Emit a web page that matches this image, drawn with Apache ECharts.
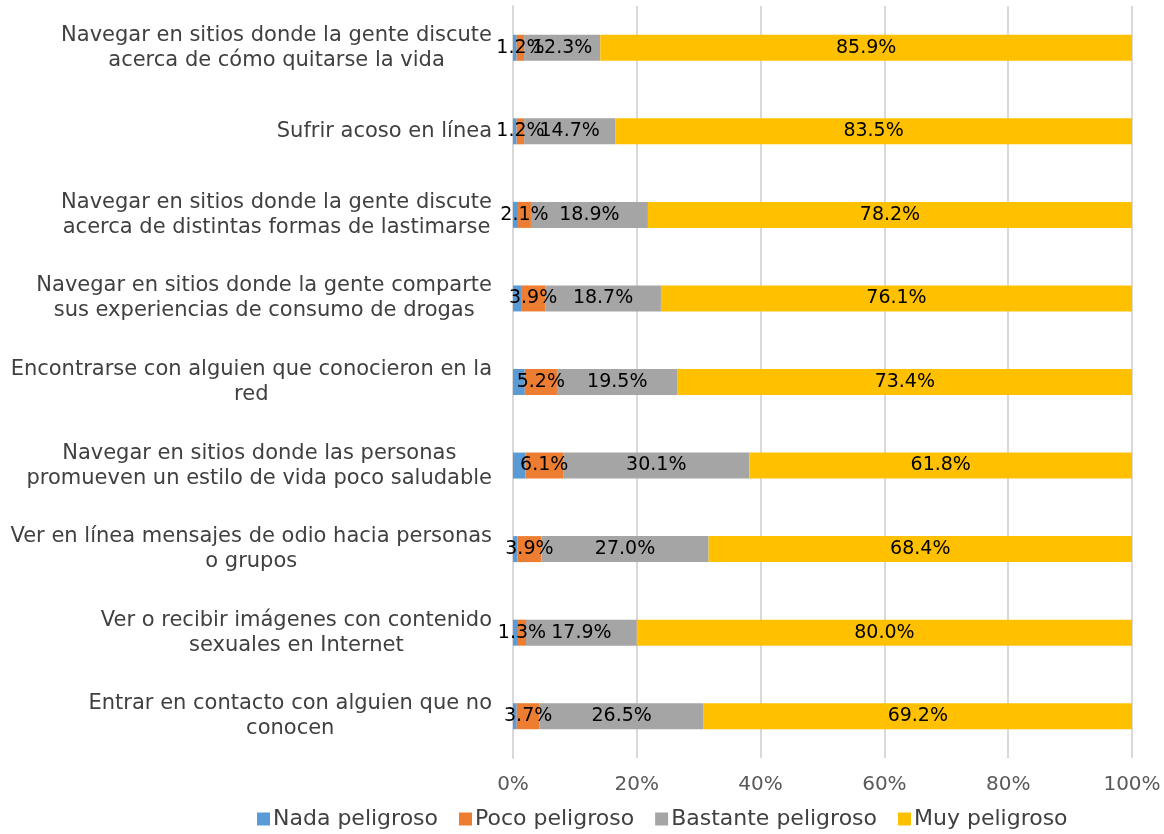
<!DOCTYPE html>
<html>
<head>
<meta charset="utf-8">
<script src="https://cdn.jsdelivr.net/npm/echarts@6/dist/echarts.min.js"></script>
<style>
  html, body { margin: 0; padding: 0; background: #fff; }
  #chart { width: 1164px; height: 834px; }
</style>
</head>
<body>
<div id="chart"></div>
<script>
// Risk perception of online activities (percent of respondents)
const categories = [
  "Navegar en sitios donde la gente discute\nacerca de cómo quitarse la vida",
  "Sufrir acoso en línea",
  "Navegar en sitios donde la gente discute\nacerca de distintas formas de lastimarse",
  "Navegar en sitios donde la gente comparte\nsus experiencias de consumo de drogas",
  "Encontrarse con alguien que conocieron en la\nred",
  "Navegar en sitios donde las personas\npromueven un estilo de vida poco saludable",
  "Ver en línea mensajes de odio hacia personas\no grupos",
  "Ver o recibir imágenes con contenido\nsexuales en Internet",
  "Entrar en contacto con alguien que no\nconocen"
];
const seriesNames = ["Nada peligroso", "Poco peligroso", "Bastante peligroso", "Muy peligroso"];
const nada      = [0.6, 0.6, 0.8, 1.3, 1.9, 2.0, 0.7, 0.8, 0.6];
const poco      = [1.2, 1.2, 2.1, 3.9, 5.2, 6.1, 3.9, 1.3, 3.7];
const bastante  = [12.3, 14.7, 18.9, 18.7, 19.5, 30.1, 27.0, 17.9, 26.5];
const muy       = [85.9, 83.5, 78.2, 76.1, 73.4, 61.8, 68.4, 80.0, 69.2];
const tickLabels = ["0%", "20%", "40%", "60%", "80%", "100%"];

const colors = ["#5B9BD5", "#ED7D31", "#A5A5A5", "#FFC000"];
const FONT = "DejaVu Sans";

const chart = echarts.init(document.getElementById("chart"), null, { renderer: "canvas" });

function seriesOf(name, data, color, showLabel) {
  return {
    name: name,
    type: "bar",
    stack: "total",
    data: data,
    barWidth: 26,
    itemStyle: { color: color },
    label: {
      show: showLabel,
      position: "inside",
      color: "#000",
      fontFamily: FONT,
      fontSize: 19,
      formatter: p => p.value.toFixed(1) + "%"
    },
    emphasis: { disabled: true }
  };
}

chart.setOption({
  animation: false,
  color: colors,
  grid: { left: 513, right: 32, top: 6, bottom: 76, containLabel: false },
  legend: {
    data: seriesNames,
    left: 252,
    top: 803,
    icon: "rect",
    itemWidth: 13,
    itemHeight: 13,
    itemGap: 21,
    textStyle: { fontFamily: FONT, fontSize: 22, color: "#404040", padding: [0, 0, 0, -2] }
  },
  xAxis: {
    type: "value",
    min: 0,
    max: 100,
    interval: 20,
    axisLine: { show: false },
    axisTick: { show: false },
    splitLine: { show: true, lineStyle: { color: "#D9D9D9", width: 2 } },
    axisLabel: {
      margin: 17,
      fontFamily: FONT,
      fontSize: 20,
      color: "#595959",
      formatter: v => tickLabels[Math.round(v / 20)]
    }
  },
  yAxis: {
    type: "category",
    inverse: true,
    data: categories,
    axisLine: { show: true, lineStyle: { color: "#D9D9D9", width: 2 } },
    axisTick: { show: false },
    axisLabel: {
      margin: 21,
      fontFamily: FONT,
      fontSize: 21,
      color: "#404040",
      align: "right",
      lineHeight: 25,
      formatter: v => v.split("\n").map(l => "{c|" + l + "}").join("\n"),
      rich: {
        c: { align: "center", fontFamily: FONT, fontSize: 21, color: "#404040", lineHeight: 25 }
      }
    }
  },
  series: [
    seriesOf(seriesNames[0], nada, colors[0], false),
    seriesOf(seriesNames[1], poco, colors[1], true),
    seriesOf(seriesNames[2], bastante, colors[2], true),
    seriesOf(seriesNames[3], muy, colors[3], true)
  ]
});
</script>
</body>
</html>
